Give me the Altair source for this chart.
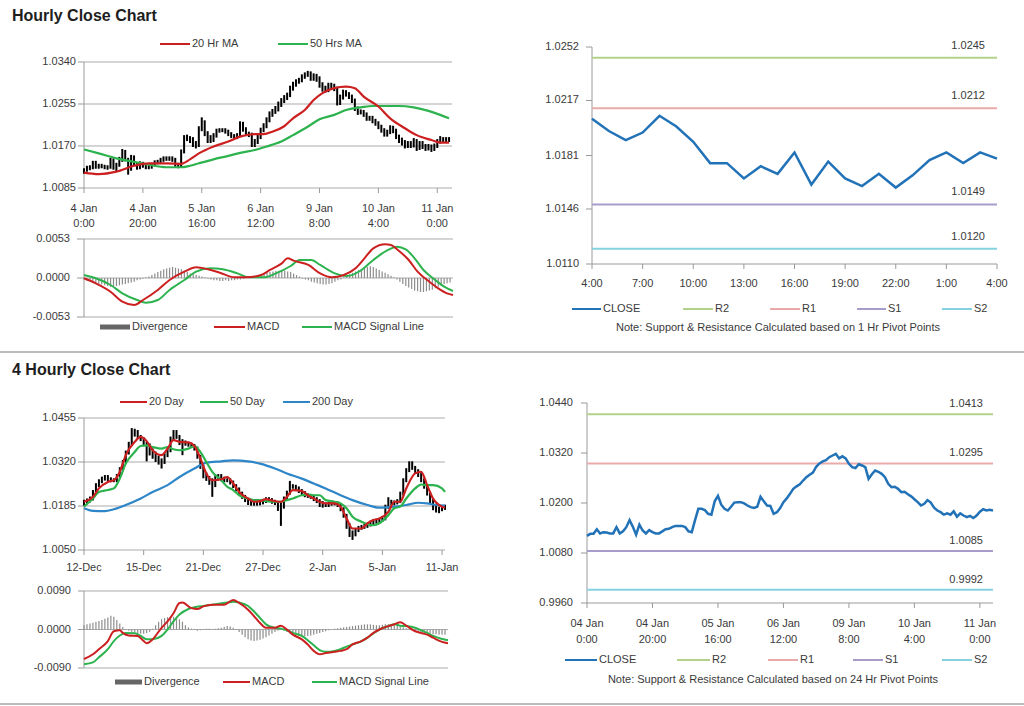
import altair as alt
import pandas as pd

# ---------------- data ----------------
# Top-left: hourly bars 4 Jan 0:00 -> 11 Jan
tl_x_labels = ["4 Jan|0:00", "4 Jan|20:00", "5 Jan|16:00", "6 Jan|12:00", "9 Jan|8:00", "10 Jan|4:00", "11 Jan|0:00"]
tl_x_ticks = [0, 20, 40, 60, 80, 100, 120]
tl_y_ticks = [1.0085, 1.0170, 1.0255, 1.0340]
tl_hi = [1.0125,1.0130,1.0131,1.0140,1.0140,1.0134,1.0134,1.0132,1.0131,1.0146,
         1.0145,1.0136,1.0148,1.0164,1.0162,1.0146,1.0152,1.0151,1.0137,1.0139,
         1.0138,1.0133,1.0131,1.0136,1.0141,1.0142,1.0146,1.0149,1.0149,1.0149,
         1.0149,1.0146,1.0136,1.0163,1.0192,1.0193,1.0190,1.0188,1.0180,1.0210,
         1.0228,1.0222,1.0200,1.0192,1.0196,1.0205,1.0206,1.0206,1.0206,1.0203,
         1.0198,1.0194,1.0196,1.0220,1.0219,1.0208,1.0199,1.0197,1.0184,1.0193,
         1.0207,1.0216,1.0228,1.0240,1.0245,1.0251,1.0260,1.0267,1.0273,1.0278,
         1.0292,1.0300,1.0305,1.0308,1.0315,1.0319,1.0322,1.0321,1.0317,1.0316,
         1.0311,1.0299,1.0292,1.0298,1.0298,1.0296,1.0290,1.0274,1.0284,1.0283,
         1.0279,1.0274,1.0266,1.0250,1.0244,1.0243,1.0238,1.0231,1.0231,1.0225,
         1.0220,1.0213,1.0206,1.0203,1.0212,1.0211,1.0205,1.0193,1.0187,1.0182,
         1.0180,1.0180,1.0186,1.0184,1.0180,1.0180,1.0174,1.0174,1.0173,1.0175,
         1.0184,1.0190,1.0188,1.0188,1.0188]
tl_lo = [1.0114,1.0118,1.0121,1.0123,1.0124,1.0124,1.0125,1.0123,1.0122,1.0124,
         1.0122,1.0118,1.0128,1.0138,1.0139,1.0112,1.0120,1.0130,1.0122,1.0123,
         1.0126,1.0123,1.0123,1.0124,1.0129,1.0133,1.0134,1.0138,1.0140,1.0140,
         1.0138,1.0128,1.0125,1.0127,1.0155,1.0180,1.0176,1.0168,1.0165,1.0168,
         1.0200,1.0190,1.0176,1.0176,1.0178,1.0187,1.0197,1.0198,1.0195,1.0190,
         1.0186,1.0184,1.0184,1.0188,1.0199,1.0190,1.0188,1.0168,1.0168,1.0174,
         1.0184,1.0198,1.0206,1.0218,1.0229,1.0235,1.0240,1.0249,1.0257,1.0263,
         1.0269,1.0282,1.0290,1.0296,1.0299,1.0306,1.0310,1.0302,1.0302,1.0300,
         1.0288,1.0280,1.0278,1.0279,1.0285,1.0281,1.0252,1.0253,1.0264,1.0270,
         1.0265,1.0257,1.0241,1.0233,1.0234,1.0229,1.0221,1.0221,1.0216,1.0211,
         1.0204,1.0197,1.0189,1.0189,1.0194,1.0196,1.0184,1.0176,1.0171,1.0165,
         1.0166,1.0166,1.0167,1.0160,1.0162,1.0164,1.0160,1.0161,1.0158,1.0160,
         1.0166,1.0175,1.0177,1.0178,1.0178]
tl_ma20_x = [0,5,11,17,22,28,33,36,39,44,49,53,58,61,64,68,71,75,78,81,85,89,92,95,100,104,109,113,118,121,124]
tl_ma20_v = [1.0116,1.0113,1.0118,1.0130,1.0135,1.0135,1.0134,1.0143,1.0155,1.0169,1.0179,1.0189,1.0194,1.0194,1.0199,
             1.0210,1.0226,1.0243,1.0263,1.0277,1.0287,1.0290,1.0287,1.0270,1.0250,1.0226,1.0206,1.0192,1.0182,1.0177,1.0177]
tl_ma50_x = [0,5,11,17,22,28,33,36,39,44,49,53,58,62,67,71,76,80,85,89,94,98,103,107,112,117,121,124]
tl_ma50_v = [1.0163,1.0155,1.0145,1.0138,1.0132,1.0127,1.0127,1.0130,1.0135,1.0143,1.0150,1.0156,1.0162,1.0169,
             1.0179,1.0192,1.0209,1.0224,1.0233,1.0243,1.0248,1.0251,1.0251,1.0251,1.0248,1.0241,1.0233,1.0226]

# Top MACD
tm_y_ticks = [-0.0053, 0.0, 0.0053]
tm_div = [-0.0002,-0.0004,-0.0005,-0.0006,-0.0007,-0.0008,-0.0009,-0.0010,-0.0011,-0.0012,
          -0.0012,-0.0011,-0.0010,-0.0009,-0.0008,-0.0007,-0.0006,-0.0005,-0.0003,-0.0002,
          -0.0001,0.0001,0.0002,0.0004,0.0006,0.0008,0.0010,0.0012,0.0013,0.0014,
          0.0015,0.0014,0.0013,0.0012,0.0010,0.0008,0.0006,0.0005,0.0004,0.0003,
          0.0002,0.0001,-0.0001,-0.0002,-0.0003,-0.0003,-0.0004,-0.0004,-0.0003,-0.0004,
          -0.0003,-0.0003,-0.0002,-0.0002,-0.0001,0.0000,0.0001,0.0002,0.0003,0.0004,
          0.0005,0.0006,0.0007,0.0008,0.0009,0.0010,0.0010,0.0011,0.0010,0.0009,
          0.0008,0.0006,0.0004,0.0002,-0.0001,-0.0002,-0.0003,-0.0005,-0.0006,-0.0007,
          -0.0008,-0.0009,-0.0009,-0.0008,-0.0007,-0.0005,-0.0003,-0.0002,0.0001,0.0003,
          0.0005,0.0007,0.0009,0.0011,0.0012,0.0014,0.0015,0.0016,0.0015,0.0013,
          0.0011,0.0009,0.0007,0.0005,0.0003,0.0001,-0.0002,-0.0005,-0.0008,-0.0011,
          -0.0013,-0.0015,-0.0017,-0.0018,-0.0019,-0.0019,-0.0018,-0.0017,-0.0016,-0.0014,
          -0.0012,-0.0010,-0.0008,-0.0007,-0.0006]
tm_macd_x = [0,4,9,13,17,20,25,29,34,38,42,46,51,55,60,63,67,69,71,76,80,84,88,92,95,98,102,104,106,110,113,117,120,123,125]
tm_macd_v = [-0.00004,-0.00072,-0.00186,-0.00322,-0.00367,-0.00299,-0.00163,-0.00027,0.00086,0.00145,
             0.00118,0.00072,0.00009,0.00009,0.00041,0.00109,0.00199,0.00267,0.00236,0.00177,
             0.00063,0.00009,0.00041,0.00131,0.00267,0.00403,0.00458,0.00448,0.00390,0.00245,
             0.00086,-0.00050,-0.00140,-0.00208,-0.00231]
tm_sig_x = [0,4,9,13,18,21,25,29,34,38,43,47,52,56,61,65,70,73,77,80,85,89,94,98,103,106,109,112,115,119,122,125]
tm_sig_v = [0.00041,-0.00004,-0.00095,-0.00208,-0.00299,-0.00335,-0.00299,-0.00163,-0.00027,0.00086,
            0.00131,0.00118,0.00063,0.00009,0.00009,0.00063,0.00163,0.00245,0.00245,0.00177,
            0.00063,0.00027,0.00109,0.00245,0.00381,0.00426,0.00390,0.00267,0.00109,-0.00027,
            -0.00118,-0.00177]

# Top-right: 1 hr close with pivot levels
tr_x_labels = ["4:00", "7:00", "10:00", "13:00", "16:00", "19:00", "22:00", "1:00", "4:00"]
tr_x_ticks = [0, 3, 6, 9, 12, 15, 18, 21, 24]
tr_y_ticks = [1.0110, 1.0146, 1.0181, 1.0217, 1.0252]
tr_close = [1.0205,1.0197,1.0191,1.0196,1.0207,1.0200,1.0190,1.0176,1.0176,1.0166,1.0174,1.0169,1.0183,
            1.0162,1.0177,1.0166,1.0161,1.0169,1.0160,1.0168,1.0178,1.0183,1.0176,1.0183,1.0179]
tr_levels = {"R2": 1.0245, "R1": 1.0212, "S1": 1.0149, "S2": 1.0120}

# Bottom-left: 4 hourly bars 12-Dec -> 11-Jan
bl_x_labels = ["12-Dec", "15-Dec", "21-Dec", "27-Dec", "2-Jan", "5-Jan", "11-Jan"]
bl_x_ticks = [0, 20, 40, 60, 80, 100, 120]
bl_y_ticks = [1.0050, 1.0185, 1.0320, 1.0455]
bl_hi = [1.0204,1.0208,1.0214,1.0234,1.0255,1.0267,1.0275,1.0280,1.0280,1.0273,
         1.0270,1.0283,1.0304,1.0326,1.0355,1.0382,1.0424,1.0422,1.0418,1.0403,
         1.0396,1.0382,1.0377,1.0362,1.0352,1.0339,1.0331,1.0347,1.0362,1.0398,
         1.0418,1.0418,1.0403,1.0390,1.0386,1.0382,1.0379,1.0375,1.0367,1.0342,
         1.0311,1.0288,1.0277,1.0270,1.0282,1.0283,1.0283,1.0275,1.0270,1.0270,
         1.0263,1.0252,1.0242,1.0229,1.0219,1.0209,1.0202,1.0200,1.0200,1.0203,
         1.0207,1.0212,1.0212,1.0209,1.0204,1.0200,1.0198,1.0214,1.0232,1.0262,
         1.0252,1.0250,1.0245,1.0237,1.0231,1.0224,1.0222,1.0219,1.0212,1.0206,
         1.0200,1.0196,1.0198,1.0199,1.0200,1.0199,1.0194,1.0181,1.0161,1.0132,
         1.0110,1.0117,1.0124,1.0127,1.0130,1.0134,1.0140,1.0145,1.0143,1.0148,
         1.0153,1.0189,1.0212,1.0204,1.0202,1.0206,1.0229,1.0270,1.0301,1.0322,
         1.0322,1.0308,1.0298,1.0286,1.0270,1.0250,1.0229,1.0206,1.0192,1.0183,
         1.0185,1.0189]
bl_lo = [1.0186,1.0192,1.0196,1.0202,1.0222,1.0243,1.0255,1.0263,1.0261,1.0258,
         1.0258,1.0258,1.0271,1.0292,1.0314,1.0343,1.0370,1.0398,1.0391,1.0384,
         1.0370,1.0322,1.0340,1.0330,1.0320,1.0312,1.0300,1.0314,1.0335,1.0350,
         1.0386,1.0391,1.0372,1.0341,1.0370,1.0367,1.0363,1.0355,1.0330,1.0299,
         1.0270,1.0262,1.0250,1.0213,1.0243,1.0263,1.0261,1.0258,1.0258,1.0251,
         1.0240,1.0230,1.0217,1.0207,1.0197,1.0188,1.0186,1.0186,1.0186,1.0187,
         1.0190,1.0194,1.0197,1.0192,1.0188,1.0170,1.0124,1.0177,1.0202,1.0220,
         1.0238,1.0233,1.0225,1.0219,1.0212,1.0210,1.0207,1.0200,1.0194,1.0182,
         1.0180,1.0182,1.0182,1.0186,1.0187,1.0182,1.0169,1.0149,1.0115,1.0090,
         1.0081,1.0092,1.0105,1.0112,1.0115,1.0118,1.0122,1.0126,1.0131,1.0131,
         1.0136,1.0141,1.0177,1.0187,1.0187,1.0190,1.0194,1.0217,1.0258,1.0289,
         1.0296,1.0286,1.0274,1.0258,1.0238,1.0217,1.0194,1.0172,1.0165,1.0163,
         1.0169,1.0173]
bl_ma_x = [0,3,5,8,10,12,14,17,19,21,23,26,28,30,32,35,37,39,41,43,46,48,50,52,55,57,59,61,64,66,
           68,70,73,75,77,79,81,84,86,88,90,93,95,97,99,102,104,106,108,111,113,115,117,120,121]
bl_ma20_v = [1.0198,1.0213,1.0239,1.0259,1.0264,1.0290,1.0341,1.0382,1.0397,1.0384,
             1.0356,1.0341,1.0361,1.0387,1.0382,1.0380,1.0369,1.0331,1.0285,1.0264,
             1.0267,1.0274,1.0254,1.0228,1.0208,1.0198,1.0200,1.0206,1.0200,1.0198,
             1.0213,1.0234,1.0231,1.0218,1.0208,1.0198,1.0193,1.0193,1.0183,1.0147,
             1.0116,1.0116,1.0132,1.0142,1.0147,1.0167,1.0198,1.0198,1.0239,1.0285,
             1.0290,1.0249,1.0208,1.0183,1.0180]
bl_ma50_v = [1.0183,1.0208,1.0228,1.0234,1.0239,1.0269,1.0315,1.0351,1.0369,1.0371,
             1.0366,1.0361,1.0366,1.0359,1.0356,1.0361,1.0369,1.0351,1.0320,1.0290,
             1.0264,1.0244,1.0234,1.0218,1.0208,1.0203,1.0203,1.0200,1.0198,1.0198,
             1.0203,1.0208,1.0218,1.0220,1.0218,1.0218,1.0203,1.0198,1.0193,1.0178,
             1.0152,1.0137,1.0129,1.0126,1.0132,1.0157,1.0178,1.0183,1.0208,1.0239,
             1.0251,1.0249,1.0249,1.0239,1.0228]
bl_ma200_x = [0,3,7,10,14,19,23,28,32,37,41,46,50,55,59,64,68,73,77,81,86,90,95,99,104,108,112,115,118,121]
bl_ma200_v = [1.0178,1.0170,1.0169,1.0175,1.0188,1.0208,1.0228,1.0249,1.0274,1.0300,
              1.0318,1.0322,1.0325,1.0322,1.0315,1.0300,1.0285,1.0269,1.0254,1.0239,
              1.0218,1.0203,1.0188,1.0180,1.0183,1.0188,1.0195,1.0193,1.0188,1.0186]

# Bottom MACD
bm_y_ticks = [-0.0090, 0.0, 0.0090]
bm_div = [0.0010,0.0012,0.0014,0.0016,0.0018,0.0020,0.0022,0.0025,0.0028,0.0032,0.0030,0.0022,0.0014,
          0.0006,0.0001,-0.0003,-0.0005,-0.0007,-0.0009,-0.0010,-0.0010,-0.0008,-0.0005,
          0.0002,0.0010,0.0018,0.0024,0.0027,0.0029,0.0031,0.0030,0.0028,0.0024,0.0018,0.0010,
          0.0005,0.0002,-0.0001,-0.0003,-0.0002,0.0001,0.0002,0.0002,0.0001,0.0002,0.0003,0.0004,0.0006,0.0008,0.0007,0.0004,0.0001,
          -0.0006,-0.0012,-0.0018,-0.0023,-0.0026,-0.0027,-0.0026,-0.0024,-0.0021,-0.0018,-0.0014,-0.0010,-0.0006,-0.0003,-0.0001,
          -0.0003,-0.0006,-0.0009,-0.0012,-0.0014,-0.0015,-0.0016,-0.0016,-0.0015,-0.0014,-0.0012,-0.0010,-0.0008,-0.0006,-0.0004,-0.0002,0.0000,
          0.0002,0.0003,0.0004,0.0005,0.0006,0.0007,0.0008,0.0009,0.0010,0.0011,0.0012,0.0012,0.0012,0.0011,0.0010,0.0010,0.0011,0.0012,0.0012,0.0011,0.0010,0.0009,0.0007,0.0005,0.0003,0.0001,
          -0.0002,-0.0004,-0.0006,-0.0007,-0.0008,-0.0009,-0.0010,-0.0011,-0.0011,-0.0012,-0.0012,-0.0012]
bm_macd_x = [0,3,5,8,10,12,13,15,18,20,21,23,26,28,30,32,33,36,38,40,43,47,50,52,55,57,59,61,64,66,
             68,70,73,75,77,79,81,84,86,88,90,93,95,97,99,102,104,106,108,111,113,115,117,120,122]
bm_macd_v = [-0.0069,-0.0058,-0.0046,-0.0027,-0.0004,-0.0002,-0.0008,-0.0014,-0.0015,-0.0027,
             -0.0032,-0.0023,0.0004,0.0019,0.0038,0.0062,0.0063,0.0050,0.0048,0.0054,
             0.0058,0.0058,0.0069,0.0062,0.0046,0.0031,0.0015,0.0004,0.0004,0.0009,
             0.0000,-0.0012,-0.0023,-0.0035,-0.0050,-0.0058,-0.0055,-0.0052,-0.0050,-0.0046,
             -0.0035,-0.0027,-0.0019,-0.0008,0.0000,0.0008,0.0012,0.0017,0.0009,-0.0004,
             -0.0008,-0.0012,-0.0019,-0.0029,-0.0032]
bm_sig_x = [0,3,5,8,10,12,14,17,19,21,23,26,28,30,32,35,37,40,43,48,50,52,55,57,59,61,64,66,68,70,
            73,75,77,79,81,84,86,88,90,93,95,97,99,102,104,106,108,111,113,115,117,120,122]
bm_sig_v = [-0.0081,-0.0077,-0.0065,-0.0046,-0.0027,-0.0014,-0.0008,-0.0009,-0.0015,-0.0023,
            -0.0023,-0.0015,0.0000,0.0019,0.0035,0.0048,0.0052,0.0055,0.0058,0.0063,
            0.0065,0.0063,0.0055,0.0042,0.0027,0.0012,0.0004,0.0002,-0.0002,-0.0008,
            -0.0015,-0.0025,-0.0037,-0.0048,-0.0052,-0.0050,-0.0046,-0.0040,-0.0035,-0.0027,
            -0.0019,-0.0009,0.0000,0.0008,0.0012,0.0009,0.0008,0.0004,-0.0002,-0.0008,
            -0.0015,-0.0022,-0.0025]

# Bottom-right: hourly close 4 Jan -> 11 Jan with 24 hr pivot levels
br_x_labels = ["04 Jan|0:00", "04 Jan|20:00", "05 Jan|16:00", "06 Jan|12:00", "09 Jan|8:00", "10 Jan|4:00", "11 Jan|0:00"]
br_x_ticks = [0, 20, 40, 60, 80, 100, 120]
br_y_ticks = [0.9960, 1.0080, 1.0200, 1.0320, 1.0440]
br_close = [1.0121,1.0126,1.0126,1.0137,1.0127,1.0130,1.0129,1.0127,1.0127,1.0142,
            1.0127,1.0132,1.0142,1.0159,1.0143,1.0124,1.0148,1.0134,1.0127,1.0135,
            1.0130,1.0127,1.0127,1.0132,1.0137,1.0138,1.0142,1.0145,1.0145,1.0145,
            1.0142,1.0132,1.0130,1.0159,1.0186,1.0186,1.0183,1.0174,1.0172,1.0204,
            1.0217,1.0196,1.0186,1.0182,1.0191,1.0201,1.0202,1.0202,1.0199,1.0194,
            1.0190,1.0188,1.0191,1.0215,1.0204,1.0194,1.0193,1.0174,1.0178,1.0188,
            1.0202,1.0211,1.0222,1.0234,1.0240,1.0245,1.0254,1.0262,1.0268,1.0273,
            1.0287,1.0295,1.0300,1.0303,1.0310,1.0314,1.0318,1.0307,1.0312,1.0307,
            1.0294,1.0286,1.0284,1.0293,1.0290,1.0286,1.0258,1.0269,1.0278,1.0275,
            1.0270,1.0262,1.0246,1.0238,1.0239,1.0234,1.0226,1.0227,1.0221,1.0216,
            1.0209,1.0202,1.0194,1.0198,1.0207,1.0201,1.0189,1.0182,1.0178,1.0172,
            1.0175,1.0172,1.0180,1.0167,1.0175,1.0170,1.0166,1.0169,1.0164,1.0170,
            1.0179,1.0185,1.0182,1.0184,1.0182]
br_levels = {"R2": 1.0413, "R1": 1.0295, "S1": 1.0085, "S2": 0.9992}

# ---------------- styling ----------------
W, H = 1024, 706
FONT = "Liberation Sans"
TXT = "#3A3A3A"
GRID = "#ABABAB"
AXC = "#9A9A9A"
RED = "#CC2020"
GREEN = "#2DB34E"
BLUE200 = "#2E86C8"
CLOSEC = "#2272B8"
DIVC = "#8C8C8C"
LEVC = {"R2": "#B4D18C", "R1": "#E9AAAA", "S1": "#A89CCB", "S2": "#85D2E0"}
ONE = pd.DataFrame({"k": [0]})


def sc(dom, rng):
    return alt.Scale(domain=dom, range=rng, nice=False, zero=False)


def line(xs, vs, xsc, ysc, color, w=2.0, interp="monotone"):
    df = pd.DataFrame({"i": xs, "v": vs})
    return alt.Chart(df).mark_line(color=color, strokeWidth=w, interpolate=interp).encode(
        x=alt.X("i:Q", scale=xsc, axis=None), y=alt.Y("v:Q", scale=ysc, axis=None))


def hlines(ticks, x0, x1, xsc, ysc, color=GRID, w=1.0):
    df = pd.DataFrame({"v": ticks})
    return alt.Chart(df).mark_rule(color=color, strokeWidth=w).encode(
        y=alt.Y("v:Q", scale=ysc, axis=None),
        x=alt.X(datum=x0, type="quantitative", scale=xsc, axis=None),
        x2=alt.X2(datum=x1))


def y_axis_marks(ticks, x0, xsc, ysc, xd0, ylo, yhi, tick, pad):
    """Axis line, tick marks and tick labels drawn through the panel's own scales."""
    df = pd.DataFrame({"v": ticks, "t": [f"{v:.4f}" for v in ticks]})
    dom = alt.Chart(ONE).mark_rule(color=AXC, strokeWidth=1).encode(
        x=alt.X(datum=xd0, type="quantitative", scale=xsc, axis=None),
        y=alt.Y(datum=ylo, type="quantitative", scale=ysc, axis=None),
        y2=alt.Y2(datum=yhi))
    tk = alt.Chart(df).mark_rule(color=AXC, strokeWidth=1).encode(
        y=alt.Y("v:Q", scale=ysc, axis=None), x=alt.value(x0 - tick), x2=alt.value(x0))
    lb = alt.Chart(df).mark_text(align="right", baseline="middle", font=FONT, fontSize=11, color=TXT).encode(
        y=alt.Y("v:Q", scale=ysc, axis=None), x=alt.value(x0 - tick - pad), text="t:N")
    return [dom, tk, lb]


def x_axis_marks(ticks, labels, y1, xsc, ysc, xd0, xd1, yd, pad, lh=15, domain=True):
    df = pd.DataFrame({"i": ticks, "t": labels})
    out = []
    if domain:
        out.append(alt.Chart(ONE).mark_rule(color=AXC, strokeWidth=1).encode(
            y=alt.Y(datum=yd, type="quantitative", scale=ysc, axis=None),
            x=alt.X(datum=xd0, type="quantitative", scale=xsc, axis=None),
            x2=alt.X2(datum=xd1)))
    out.append(alt.Chart(df).mark_rule(color=AXC, strokeWidth=1).encode(
        x=alt.X("i:Q", scale=xsc, axis=None), y=alt.value(y1), y2=alt.value(y1 + 5)))
    out.append(alt.Chart(df).mark_text(align="center", baseline="top", lineBreak="|", lineHeight=lh,
                                       font=FONT, fontSize=11, color=TXT).encode(
        x=alt.X("i:Q", scale=xsc, axis=None), y=alt.value(y1 + 5 + pad), text="t:N"))
    return out


def leg(x, y, w, color, label, sw=2.0):
    r = alt.Chart(ONE).mark_rule(color=color, strokeWidth=sw).encode(
        x=alt.value(x), x2=alt.value(x + w), y=alt.value(y))
    t = alt.Chart(ONE).mark_text(align="left", baseline="middle", font=FONT, fontSize=11, color=TXT).encode(
        x=alt.value(x + w + 2), y=alt.value(y), text=alt.value(label))
    return [r, t]


def text(x, y, s, size=11, bold=False, align="left"):
    return alt.Chart(ONE).mark_text(align=align, baseline="middle", font=FONT, fontSize=size,
                                    fontWeight="bold" if bold else "normal",
                                    color="#1E1E1E" if bold else TXT).encode(
        x=alt.value(x), y=alt.value(y), text=alt.value(s))


def hsep(y):
    return alt.Chart(ONE).mark_rule(color="#A6A6A6", strokeWidth=1.5).encode(
        x=alt.value(0), x2=alt.value(W), y=alt.value(y))


layers = []

# ---------- top-left main ----------
xs = sc([0, 125], [84, 452]); ys = sc([1.0085, 1.0340], [188, 62])
tl_df = pd.DataFrame({"i": list(range(len(tl_hi))), "lo": tl_lo, "hi": tl_hi})
layers.append(alt.layer(
    hlines(tl_y_ticks, 0, 125, xs, ys),
    *y_axis_marks(tl_y_ticks, 84, xs, ys, 0, 1.0085, 1.0340, 6, 2),
    *x_axis_marks(tl_x_ticks, tl_x_labels, 188, xs, ys, 0, 125, 1.0085, 10, domain=False),
    alt.Chart(tl_df).mark_rule(color="black", strokeWidth=2).encode(
        x=alt.X("i:Q", scale=xs, axis=None), y=alt.Y("lo:Q", scale=ys, axis=None), y2="hi:Q"),
    line(tl_ma50_x, tl_ma50_v, xs, ys, GREEN, 2.2),
    line(tl_ma20_x, tl_ma20_v, xs, ys, RED, 2.2),
))

# ---------- top MACD ----------
xs = sc([0, 125], [84, 453]); ys = sc([-0.0053, 0.0053], [317, 239])
tm_df = pd.DataFrame({"i": list(range(len(tm_div))), "d": tm_div})
layers.append(alt.layer(
    hlines(tm_y_ticks, 0, 125, xs, ys),
    *y_axis_marks(tm_y_ticks, 84, xs, ys, 0, -0.0053, 0.0053, 7, 7),
    alt.Chart(tm_df).mark_rule(color=DIVC, strokeWidth=1.2).encode(
        x=alt.X("i:Q", scale=xs, axis=None), y=alt.Y("d:Q", scale=ys, axis=None), y2=alt.Y2(datum=0)),
    line(tm_sig_x, tm_sig_v, xs, ys, GREEN, 2.0),
    line(tm_macd_x, tm_macd_v, xs, ys, RED, 2.0),
))

# ---------- top-right ----------
xs = sc([0, 24], [592, 997]); ys = sc([1.0110, 1.0252], [264, 47])
tr_df = pd.DataFrame({"i": list(range(len(tr_close))), "v": tr_close})
tr_layers = []
tr_layers += y_axis_marks(tr_y_ticks, 592, xs, ys, 0, 1.0110, 1.0252, 6, 7)
tr_layers += x_axis_marks(tr_x_ticks, tr_x_labels, 264, xs, ys, 0, 24, 1.0110, 9)
for name, val in tr_levels.items():
    tr_layers.append(hlines([val], 0, 24, xs, ys, LEVC[name], 2))
    tr_layers.append(alt.Chart(pd.DataFrame({"v": [val], "t": [f"{val:.4f}"]})).mark_text(
        align="right", baseline="middle", dy=-12, font=FONT, fontSize=11, color=TXT).encode(
        x=alt.value(985), y=alt.Y("v:Q", scale=ys, axis=None), text="t:N"))
tr_layers.append(alt.Chart(tr_df).mark_line(color=CLOSEC, strokeWidth=2.5).encode(
    x=alt.X("i:Q", scale=xs, axis=None), y=alt.Y("v:Q", scale=ys, axis=None)))
layers.append(alt.layer(*tr_layers))

# ---------- bottom-left main ----------
xs = sc([0, 122], [84, 448]); ys = sc([1.0050, 1.0455], [550, 418])
bl_df = pd.DataFrame({"i": list(range(len(bl_hi))), "lo": bl_lo, "hi": bl_hi})
layers.append(alt.layer(
    hlines(bl_y_ticks, 0, 121, xs, ys),
    *y_axis_marks(bl_y_ticks, 84, xs, ys, 0, 1.0050, 1.0455, 6, 2),
    *x_axis_marks(bl_x_ticks, bl_x_labels, 550, xs, ys, 0, 121, 1.0050, 7, domain=False),
    alt.Chart(bl_df).mark_rule(color="black", strokeWidth=2).encode(
        x=alt.X("i:Q", scale=xs, axis=None), y=alt.Y("lo:Q", scale=ys, axis=None), y2="hi:Q"),
    line(bl_ma200_x, bl_ma200_v, xs, ys, BLUE200, 2.2),
    line(bl_ma_x, bl_ma50_v, xs, ys, GREEN, 2.2),
    line(bl_ma_x, bl_ma20_v, xs, ys, RED, 2.2),
))

# ---------- bottom MACD ----------
xs = sc([0, 122], [84, 448]); ys = sc([-0.0090, 0.0090], [668, 591])
bm_df = pd.DataFrame({"i": list(range(len(bm_div))), "d": bm_div})
layers.append(alt.layer(
    hlines(bm_y_ticks, 0, 122, xs, ys),
    *y_axis_marks(bm_y_ticks, 84, xs, ys, 0, -0.0090, 0.0090, 6, 7),
    alt.Chart(bm_df).mark_rule(color=DIVC, strokeWidth=1.2).encode(
        x=alt.X("i:Q", scale=xs, axis=None), y=alt.Y("d:Q", scale=ys, axis=None), y2=alt.Y2(datum=0)),
    line(bm_sig_x, bm_sig_v, xs, ys, GREEN, 2.0),
    line(bm_macd_x, bm_macd_v, xs, ys, RED, 2.0),
))

# ---------- bottom-right ----------
xs = sc([0, 124], [587, 993]); ys = sc([0.9960, 1.0440], [603, 403])
br_df = pd.DataFrame({"i": list(range(len(br_close))), "v": br_close})
br_layers = []
br_layers += y_axis_marks(br_y_ticks, 587, xs, ys, 0, 0.9960, 1.0440, 6, 8)
br_layers += x_axis_marks(br_x_ticks, br_x_labels, 603, xs, ys, 0, 124, 0.9960, 10, lh=16)
for name, val in br_levels.items():
    br_layers.append(hlines([val], 0, 124, xs, ys, LEVC[name], 2))
    br_layers.append(alt.Chart(pd.DataFrame({"v": [val], "t": [f"{val:.4f}"]})).mark_text(
        align="right", baseline="middle", dy=-10, font=FONT, fontSize=11, color=TXT).encode(
        x=alt.value(983), y=alt.Y("v:Q", scale=ys, axis=None), text="t:N"))
br_layers.append(alt.Chart(br_df).mark_line(color=CLOSEC, strokeWidth=2.5).encode(
    x=alt.X("i:Q", scale=xs, axis=None), y=alt.Y("v:Q", scale=ys, axis=None)))
layers.append(alt.layer(*br_layers))

# ---------- titles, legends, notes, separators ----------
deco = []
deco.append(text(12, 16, "Hourly Close Chart", 16, True))
deco.append(text(12, 370, "4 Hourly Close Chart", 16, True))
deco += leg(160, 44, 30, RED, "20 Hr MA")
deco += leg(278, 44, 30, GREEN, "50 Hrs MA")
deco += leg(100, 327, 30, "#666666", "Divergence", 5)
deco += leg(214, 327, 31, RED, "MACD")
deco += leg(302, 327, 30, GREEN, "MACD Signal Line")
deco += leg(572, 309, 29, CLOSEC, "CLOSE")
deco += leg(683, 309, 30, LEVC["R2"], "R2")
deco += leg(770, 309, 30, LEVC["R1"], "R1")
deco += leg(857, 309, 29, LEVC["S1"], "S1")
deco += leg(942, 309, 30, LEVC["S2"], "S2")
deco.append(text(778, 328, "Note: Support & Resistance Calculated based on 1 Hr Pivot Points", 11, False, "center"))
deco += leg(120, 402, 27, RED, "20 Day")
deco += leg(200, 402, 28, GREEN, "50 Day")
deco += leg(283, 402, 27, BLUE200, "200 Day")
deco += leg(115, 682, 27, "#666666", "Divergence", 5)
deco += leg(223, 682, 27, RED, "MACD")
deco += leg(312, 682, 25, GREEN, "MACD Signal Line")
deco += leg(565, 660, 32, CLOSEC, "CLOSE")
deco += leg(677, 660, 33, LEVC["R2"], "R2")
deco += leg(768, 660, 30, LEVC["R1"], "R1")
deco += leg(853, 660, 30, LEVC["S1"], "S1")
deco += leg(942, 660, 30, LEVC["S2"], "S2")
deco.append(text(773, 680, "Note: Support & Resistance Calculated based on 24 Hr Pivot Points", 11, False, "center"))
deco.append(hsep(352))
deco.append(hsep(704))

chart = alt.layer(*layers, *deco).resolve_scale(x="independent", y="independent").properties(
    width=W, height=H, autosize="none", padding=0, background="white"
).configure_view(stroke=None)

chart.save("out.html", embed_options={"renderer": "svg", "actions": False})
